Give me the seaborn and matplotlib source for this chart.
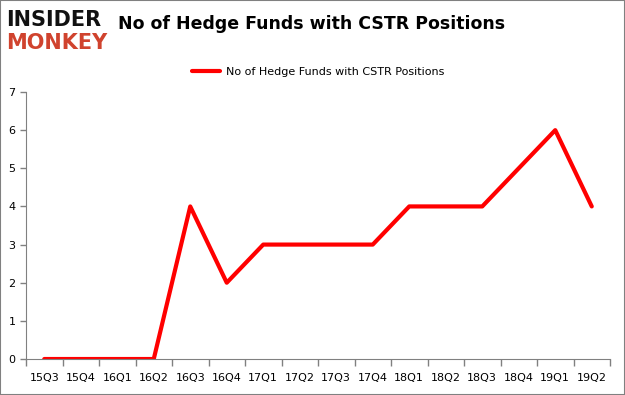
import pandas as pd
import matplotlib.pyplot as plt
import seaborn as sns

# data
quarters = ["15Q3", "15Q4", "16Q1", "16Q2", "16Q3", "16Q4", "17Q1", "17Q2",
            "17Q3", "17Q4", "18Q1", "18Q2", "18Q3", "18Q4", "19Q1", "19Q2"]
funds = [0, 0, 0, 0, 4, 2, 3, 3, 3, 3, 4, 4, 4, 5, 6, 4]
series_name = "No of Hedge Funds with CSTR Positions"

df = pd.DataFrame({"quarter": quarters, "funds": funds})
df["pos"] = range(len(df))

sns.set_style("white")
plt.rcParams["font.family"] = ["DejaVu Sans"]

fig = plt.figure(figsize=(6.25, 3.95), dpi=100)
ax = fig.add_axes([0.0416, 0.0911, 0.9344, 0.676])

sns.lineplot(data=df, x="pos", y="funds", color="#ff0000", linewidth=3,
             label=series_name, ax=ax)

ax.set_xlim(-0.5, len(quarters) - 0.5)
ax.set_ylim(0, 7)
ax.set_xticks([p + 0.5 for p in range(-1, len(quarters))], minor=False)
ax.set_xticklabels([])
ax.set_xticks(range(len(quarters)), minor=True)
ax.set_xticklabels(quarters, minor=True, fontsize=8, color="#000000")
ax.tick_params(axis="x", which="major", bottom=True, length=5, width=1,
               color="#808080", direction="out")
ax.tick_params(axis="x", which="minor", bottom=False, length=0, pad=10)
ax.set_yticks(range(0, 8))
ax.tick_params(axis="y", left=True, length=4, width=1, color="#808080",
               labelsize=8, labelcolor="#000000", direction="out")
ax.set_xlabel("")
ax.set_ylabel("")

for side in ["top", "right"]:
    ax.spines[side].set_visible(False)
for side in ["left", "bottom"]:
    ax.spines[side].set_color("#808080")

leg = ax.legend(loc="lower center", bbox_to_anchor=(0.5, 1.02), frameon=False,
                fontsize=8, handlelength=2.6, handletextpad=0.5)
for t in leg.get_texts():
    t.set_color("#000000")

# header
fig.text(0.010, 0.935, "INSIDER", fontsize=15, fontweight="bold", color="#111111")
fig.text(0.010, 0.875, "MONKEY", fontsize=15, fontweight="bold", color="#d0432e")
fig.text(0.188, 0.927, series_name, fontsize=12.5, fontweight="bold", color="#000000")

# border
fig.patches.append(plt.Rectangle((0, 0), 1, 1, transform=fig.transFigure,
                                 fill=False, edgecolor="#808080", linewidth=1.5))

fig.savefig("out.png", dpi=100)
